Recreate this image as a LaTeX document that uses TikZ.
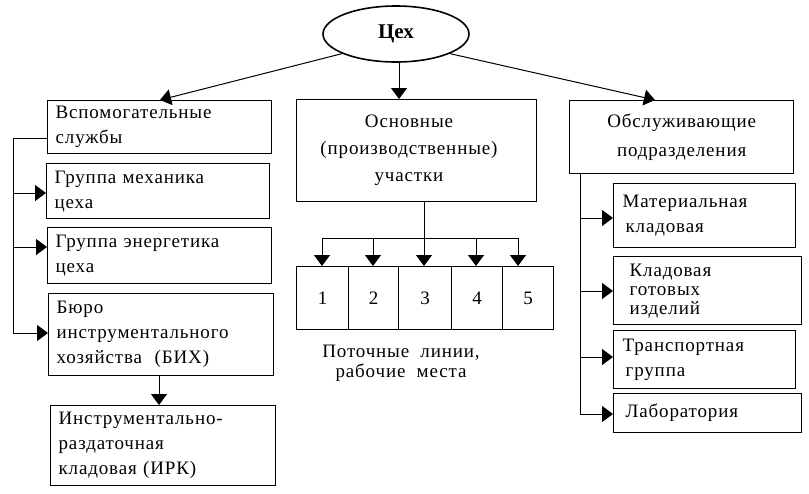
\documentclass[tikz,border=0pt]{standalone}
\usepackage{fontspec}
\setmainfont[LetterSpace=4.5]{Liberation Serif}
\newfontfamily\titlefont{Liberation Serif}
\usetikzlibrary{arrows.meta,shapes.geometric,calc}
\begin{document}
\begin{tikzpicture}[x=1pt,y=-1pt,
  box/.style={draw=black,line width=1.3pt,rectangle,anchor=north west,inner xsep=7pt,inner ysep=0pt,align=left,font=\fontsize{19}{25}\selectfont},
  numbox/.style={draw=black,line width=1.3pt,rectangle,anchor=north west,inner sep=0pt,minimum height=63pt,font=\fontsize{19}{23}\selectfont},
  plain/.style={inner sep=0pt,align=center,font=\fontsize{19}{27}\selectfont},
  arr/.style={line width=1pt,-{Triangle[width=16pt,length=11pt]}},
  ln/.style={line width=1pt}]
\useasboundingbox (0,0) rectangle (809,493);
% top ellipse
\node[draw,ellipse,line width=1.6pt,minimum width=146pt,minimum height=56pt,inner sep=0pt,font=\titlefont\fontsize{21}{23}\selectfont\bfseries] (cex) at (396,34) {Цех};
% left column
\node[box,minimum width=224pt,minimum height=53pt,text width=208pt] (vsp) at (47,100) {Вспомогательные\\службы};
\node[box,minimum width=223pt,minimum height=55pt,text width=207pt] (meh) at (46,163) {Группа механика\\цеха};
\node[box,minimum width=224pt,minimum height=56pt,text width=208pt] (ene) at (47,227) {Группа энергетика\\цеха};
\node[box,minimum width=225pt,minimum height=82pt,text width=209pt] (bur) at (48,293) {Бюро\\инструментального\\хозяйства~~(БИХ)};
\node[box,minimum width=225pt,minimum height=80pt,text width=209pt] (irk) at (50,405) {Инструментально-\\раздаточная\\кладовая (ИРК)};
% middle
\node[box,minimum width=240pt,minimum height=102pt] (osn) at (296,99) {};
\node[plain] (osnt) at (409,150) {Основные\\(производственные)\\участки};
\node[numbox,minimum width=52pt] (n1) at (296,266) {1};
\node[numbox,minimum width=50pt] (n2) at (348,266) {2};
\node[numbox,minimum width=53pt] (n3) at (398,266) {3};
\node[numbox,minimum width=51pt] (n4) at (451,266) {4};
\node[numbox,minimum width=51pt] (n5) at (502,266) {5};
\node[plain,font=\fontsize{19}{20}\selectfont] (pot) at (401,363) {Поточные~~линии,\\рабочие~~места};
% right column
\node[box,align=center,minimum width=224pt,minimum height=73pt,text width=208pt,font=\fontsize{19}{29}\selectfont] (obs) at (569,100) {Обслуживающие\\подразделения};
\node[box,minimum width=180pt,minimum height=64pt,text width=164pt,inner xsep=9pt] (mat) at (613,183) {Материальная\\\hspace*{3pt}кладовая};
\node[box,minimum width=180pt,minimum height=68pt,text width=156pt,inner xsep=16pt,font=\fontsize{19}{19}\selectfont] (kgi) at (613,256) {Кладовая\\готовых\\изделий};
\node[box,minimum width=180pt,minimum height=58pt,text width=164pt,inner xsep=9pt] (tra) at (613,330) {Транспортная\\\hspace*{3pt}группа};
\node[box,minimum width=182pt,minimum height=39pt,text width=164pt,inner xsep=12pt] (lab) at (613,393) {Лаборатория};
% arrows from the ellipse
\coordinate (cd) at (399,0);
\draw[arr] (cex.200) -- ($(vsp.north west)+(113,0)$);
\draw[arr] (cex.south -| cd) -- (cd |- osn.north);
\draw[arr] (cex.-20) -- ($(obs.north west)+(86,0)$);
% left connectors
\coordinate (l0) at (13,138);
\coordinate (l1) at (13,193);
\coordinate (l2) at (13,247);
\coordinate (l3) at (13,333);
\draw[ln] (l0 -| vsp.west) -- (l0) -- (l3);
\draw[arr] (l1) -- (l1 -| meh.west);
\draw[arr] (l2) -- (l2 -| ene.west);
\draw[arr] (l3) -- (l3 -| bur.west);
\coordinate (bd) at (159,375);
\draw[arr] (bd) -- (bd |- irk.north);
% middle connectors
\coordinate (t1) at (322,238);
\coordinate (t2) at (373,238);
\coordinate (t3) at (424,238);
\coordinate (t4) at (476,238);
\coordinate (t5) at (518,238);
\draw[ln] (t3 |- osn.south) -- (t3);
\draw[ln] (t1) -- (t5);
\draw[arr] (t1) -- (t1 |- n1.north);
\draw[arr] (t2) -- (t2 |- n2.north);
\draw[arr] (t3) -- (t3 |- n3.north);
\draw[arr] (t4) -- (t4 |- n4.north);
\draw[arr] (t5) -- (t5 |- n5.north);
% right connectors
\coordinate (r0) at (580,173);
\coordinate (r1) at (580,218);
\coordinate (r2) at (580,291);
\coordinate (r3) at (580,357);
\coordinate (r4) at (580,414);
\draw[ln] (r0) -- (r4);
\draw[arr] (r1) -- (r1 -| mat.west);
\draw[arr] (r2) -- (r2 -| kgi.west);
\draw[arr] (r3) -- (r3 -| tra.west);
\draw[arr] (r4) -- (r4 -| lab.west);
\end{tikzpicture}
\end{document}
